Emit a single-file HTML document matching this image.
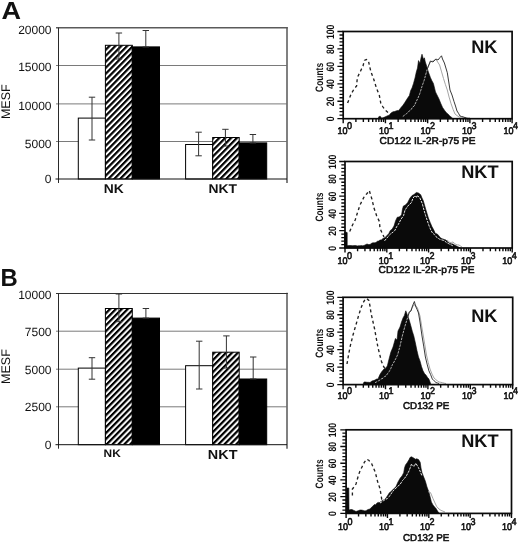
<!DOCTYPE html>
<html><head><meta charset="utf-8"><title>Figure</title>
<style>
html,body{margin:0;padding:0;background:#fff;}
body{width:520px;height:542px;overflow:hidden;}
svg{display:block;font-family:"Liberation Sans",sans-serif;filter:grayscale(1);}
text{fill:#111;text-rendering:geometricPrecision;}
</style></head>
<body>
<svg width="520" height="542" viewBox="0 0 520 542">
<defs>
<pattern id="hatch" width="4.2" height="4.2" patternUnits="userSpaceOnUse" patternTransform="rotate(-45.5)">
<rect width="4.2" height="4.2" fill="#fff"/>
<rect x="0" y="0" width="4.2" height="2.2" fill="#000"/>
</pattern>
</defs>
<rect width="520" height="542" fill="#fff"/>
<g id="chartA">
<line x1="56.0" y1="65.5" x2="287" y2="65.5" stroke="#7a7a7a" stroke-width="1"/>
<line x1="56.0" y1="103.9" x2="287" y2="103.9" stroke="#7a7a7a" stroke-width="1"/>
<line x1="56.0" y1="141.5" x2="287" y2="141.5" stroke="#7a7a7a" stroke-width="1"/>
<path d="M287 27.15V183" fill="none" stroke="#6a6a6a" stroke-width="1.7"/>
<path d="M56.0 27.75H287.8" fill="none" stroke="#5a5a5a" stroke-width="1.5"/>
<path d="M58.5 27.75V183" fill="none" stroke="#2a2a2a" stroke-width="1"/>
<rect x="78.3" y="118.1" width="27.10000000000001" height="60.900000000000006" fill="#fff" stroke="#000" stroke-width="1"/>
<rect x="105.4" y="45.3" width="26.900000000000006" height="133.7" fill="url(#hatch)" stroke="#000" stroke-width="1"/>
<rect x="132.3" y="46.9" width="27.19999999999999" height="132.1" fill="#000" stroke="#000" stroke-width="1"/>
<rect x="185.6" y="144.5" width="27.099999999999994" height="34.5" fill="#fff" stroke="#000" stroke-width="1"/>
<rect x="212.7" y="137.5" width="26.5" height="41.5" fill="url(#hatch)" stroke="#000" stroke-width="1"/>
<rect x="239.2" y="142.9" width="27.5" height="36.099999999999994" fill="#000" stroke="#000" stroke-width="1"/>
<line x1="55.5" y1="179" x2="287" y2="179" stroke="#111" stroke-width="1"/>
<path d="M92 97.2V140M88.8 97.2H95.2M88.8 140H95.2" fill="none" stroke="#333" stroke-width="1"/>
<path d="M118.9 33V59M115.7 33H122.10000000000001M115.7 59H122.10000000000001" fill="none" stroke="#333" stroke-width="1"/>
<path d="M145.8 30.5V47M142.60000000000002 30.5H149.0M142.60000000000002 47H149.0" fill="none" stroke="#333" stroke-width="1"/>
<path d="M198.6 132.2V155.8M195.4 132.2H201.79999999999998M195.4 155.8H201.79999999999998" fill="none" stroke="#333" stroke-width="1"/>
<path d="M225.4 129.3V146M222.20000000000002 129.3H228.6M222.20000000000002 146H228.6" fill="none" stroke="#333" stroke-width="1"/>
<path d="M252.9 134.5V143M249.70000000000002 134.5H256.1M249.70000000000002 143H256.1" fill="none" stroke="#333" stroke-width="1"/>
<text x="51.5" y="34.05" text-anchor="end" font-size="12">20000</text>
<text x="51.5" y="70.70" text-anchor="end" font-size="12">15000</text>
<text x="51.5" y="109.50" text-anchor="end" font-size="12">10000</text>
<text x="51.5" y="147.80" text-anchor="end" font-size="12">5000</text>
<text x="51.5" y="183.30" text-anchor="end" font-size="12">0</text>
<text transform="translate(113.75 192.9) scale(1.1 1)" text-anchor="middle" font-size="12.6" font-weight="bold">NK</text>
<text transform="translate(222.65 192.9) scale(1.1 1)" text-anchor="middle" font-size="12.6" font-weight="bold">NKT</text>
<text transform="translate(1.5 18.9) scale(1.1 1)" font-size="24.6" font-weight="bold">A</text>
<text transform="translate(10.3 101.7) rotate(-90)" text-anchor="middle" font-size="12.5">MESF</text>
</g>
<g id="chartB">
<line x1="56.0" y1="331.2" x2="287" y2="331.2" stroke="#7a7a7a" stroke-width="1"/>
<line x1="56.0" y1="369.2" x2="287" y2="369.2" stroke="#7a7a7a" stroke-width="1"/>
<line x1="56.0" y1="406.8" x2="287" y2="406.8" stroke="#7a7a7a" stroke-width="1"/>
<path d="M287 292.84999999999997V448.7" fill="none" stroke="#6a6a6a" stroke-width="1.7"/>
<path d="M56.0 293.45H287.8" fill="none" stroke="#333" stroke-width="1.1"/>
<path d="M58.5 293.45V448.7" fill="none" stroke="#2a2a2a" stroke-width="1"/>
<rect x="78.3" y="368.1" width="27.10000000000001" height="76.59999999999997" fill="#fff" stroke="#000" stroke-width="1"/>
<rect x="105.4" y="308.5" width="26.900000000000006" height="136.2" fill="url(#hatch)" stroke="#000" stroke-width="1"/>
<rect x="132.3" y="318.1" width="27.19999999999999" height="126.59999999999997" fill="#000" stroke="#000" stroke-width="1"/>
<rect x="185.6" y="365.7" width="27.099999999999994" height="79.0" fill="#fff" stroke="#000" stroke-width="1"/>
<rect x="212.7" y="352.2" width="26.5" height="92.5" fill="url(#hatch)" stroke="#000" stroke-width="1"/>
<rect x="239.2" y="379" width="27.5" height="65.69999999999999" fill="#000" stroke="#000" stroke-width="1"/>
<line x1="55.5" y1="444.7" x2="287" y2="444.7" stroke="#111" stroke-width="1"/>
<path d="M92 357.7V379.2M88.8 357.7H95.2M88.8 379.2H95.2" fill="none" stroke="#333" stroke-width="1"/>
<path d="M118.9 294V321.7M115.7 294H122.10000000000001M115.7 321.7H122.10000000000001" fill="none" stroke="#333" stroke-width="1"/>
<path d="M145.9 308.5V318.1M142.70000000000002 308.5H149.1M142.70000000000002 318.1H149.1" fill="none" stroke="#333" stroke-width="1"/>
<path d="M199.2 341.2V389M196.0 341.2H202.39999999999998M196.0 389H202.39999999999998" fill="none" stroke="#333" stroke-width="1"/>
<path d="M226.4 335.9V368M223.20000000000002 335.9H229.6M223.20000000000002 368H229.6" fill="none" stroke="#333" stroke-width="1"/>
<path d="M253.2 357V379M250.0 357H256.4M250.0 379H256.4" fill="none" stroke="#333" stroke-width="1"/>
<text x="51.5" y="299.30" text-anchor="end" font-size="12">10000</text>
<text x="51.5" y="336.40" text-anchor="end" font-size="12">7500</text>
<text x="51.5" y="373.60" text-anchor="end" font-size="12">5000</text>
<text x="51.5" y="411.40" text-anchor="end" font-size="12">2500</text>
<text x="51.5" y="448.80" text-anchor="end" font-size="12">0</text>
<text transform="translate(112.2 457) scale(1.1 1)" text-anchor="middle" font-size="10.8" font-weight="bold">NK</text>
<text transform="translate(222.65 458.5) scale(1.1 1)" text-anchor="middle" font-size="13.1" font-weight="bold">NKT</text>
<text transform="translate(0.5 285.8) scale(0.97 1)" font-size="24.6" font-weight="bold">B</text>
<text transform="translate(10.3 366.6) rotate(-90)" text-anchor="middle" font-size="12.5">MESF</text>
</g>
<g id="facs1">
<polygon points="378.0,118.7 379.0,116.4 380.5,116.4 381.5,118.2 383.5,117.6 386.0,116.5 387.6,115.7 389.2,115.2 391.0,113.0 393.0,111.8 394.5,111.5 396.0,111.0 397.4,110.5 398.8,110.4 401.0,107.5 402.7,105.6 404.5,103.0 406.5,99.8 408.0,97.5 409.4,95.5 410.7,90.5 412.0,88.0 413.5,83.4 415.0,78.0 416.3,72.0 417.5,68.0 418.5,60.6 419.9,63.5 421.0,58.0 422.0,54.2 423.4,59.2 424.4,57.8 425.3,62.0 426.3,64.9 428.4,72.0 430.5,77.7 431.9,80.8 433.4,83.4 435.5,91.9 437.0,95.0 439.0,99.0 440.8,103.5 442.6,107.5 445.0,111.0 446.9,113.2 448.3,114.3 449.7,116.0 451.4,117.2 453.0,118.7" fill="#0a0a0a" stroke="#0a0a0a" stroke-width="0.6"/>
<polyline points="427.0,70.0 428.0,67.0 430.4,62.0 433.0,61.0 435.8,59.5 437.0,61.0 439.6,65.0 441.6,71.9 443.5,78.5 445.4,84.5 447.3,90.0 449.1,97.1 451.0,103.5 453.0,109.2 455.0,114.0 457.0,115.6 459.0,117.0 460.6,117.2 462.1,117.2 463.7,117.4 465.3,117.6 466.9,117.7 468.4,117.9 470.0,118.0" fill="none" stroke="#9a9a9a" stroke-width="0.9"/>
<polyline points="427.0,70.0 428.0,67.0 430.4,61.0 433.0,62.0 435.8,59.0 438.0,60.0 440.0,57.5 441.5,55.8 442.5,59.0 444.4,63.0 447.3,72.7 450.0,90.0 452.0,95.0 454.0,101.5 455.5,106.0 457.0,111.0 458.5,113.3 460.0,116.0 461.6,116.5 463.2,116.9 464.9,117.5 466.5,118.0" fill="none" stroke="#222" stroke-width="0.9"/>
<polyline points="402.8,116.5 404.5,115.2 406.3,113.8 408.0,112.5 409.6,110.6 411.1,109.6 412.6,107.1 414.2,106.0 416.1,101.8 418.0,98.0 419.9,93.3 422.0,86.4 424.1,80.5 427.0,70.0" fill="none" stroke="#d8d8d8" stroke-width="0.8" stroke-dasharray="2.5 1"/>
<polyline points="347.6,103.0 351.0,94.3 354.0,89.0 356.6,86.0 357.3,77.7 360.7,70.7 363.0,66.0 364.4,60.5 366.4,59.5 368.4,60.5 369.5,66.0 371.0,72.0 373.9,79.7 376.2,87.3 379.4,95.6 380.8,103.3 383.0,107.0 385.0,110.0 388.0,112.5" fill="none" stroke="#222" stroke-width="1.35" stroke-dasharray="3 2.8"/>
<rect x="343.2" y="31.5" width="168.90000000000003" height="87.2" fill="none" stroke="#0a0a0a" stroke-width="1.7"/>
<path d="M337.4 118.70H343.2M339.5 115.21H343.2M339.5 111.72H343.2M339.5 108.24H343.2M339.5 104.75H343.2M337.4 101.26H343.2M339.5 97.77H343.2M339.5 94.28H343.2M339.5 90.80H343.2M339.5 87.31H343.2M337.4 83.82H343.2M339.5 80.33H343.2M339.5 76.84H343.2M339.5 73.36H343.2M339.5 69.87H343.2M337.4 66.38H343.2M339.5 62.89H343.2M339.5 59.40H343.2M339.5 55.92H343.2M339.5 52.43H343.2M337.4 48.94H343.2M339.5 45.45H343.2M339.5 41.96H343.2M339.5 38.48H343.2M339.5 34.99H343.2M337.4 31.50H343.2" stroke="#0a0a0a" stroke-width="1.3" fill="none"/>
<path d="M343.20 118.7V123.3M355.91 118.7V121.9M363.35 118.7V121.9M368.62 118.7V121.9M372.71 118.7V121.9M376.06 118.7V121.9M378.88 118.7V121.9M381.33 118.7V121.9M383.49 118.7V121.9M385.43 118.7V123.3M398.14 118.7V121.9M405.57 118.7V121.9M410.85 118.7V121.9M414.94 118.7V121.9M418.28 118.7V121.9M421.11 118.7V121.9M423.56 118.7V121.9M425.72 118.7V121.9M427.65 118.7V123.3M440.36 118.7V121.9M447.80 118.7V121.9M453.07 118.7V121.9M457.16 118.7V121.9M460.51 118.7V121.9M463.33 118.7V121.9M465.78 118.7V121.9M467.94 118.7V121.9M469.88 118.7V123.3M482.59 118.7V121.9M490.02 118.7V121.9M495.30 118.7V121.9M499.39 118.7V121.9M502.73 118.7V121.9M505.56 118.7V121.9M508.01 118.7V121.9M510.17 118.7V121.9M512.1 118.7V123.3" stroke="#0a0a0a" stroke-width="1.4" fill="none"/>
<text transform="translate(334.4 119.0) rotate(-90) scale(0.79 1)" text-anchor="middle" font-size="10.8" font-weight="bold">0</text>
<text transform="translate(334.4 101.6) rotate(-90) scale(0.79 1)" text-anchor="middle" font-size="10.8" font-weight="bold">20</text>
<text transform="translate(334.4 84.1) rotate(-90) scale(0.79 1)" text-anchor="middle" font-size="10.8" font-weight="bold">40</text>
<text transform="translate(334.4 66.7) rotate(-90) scale(0.79 1)" text-anchor="middle" font-size="10.8" font-weight="bold">60</text>
<text transform="translate(334.4 49.2) rotate(-90) scale(0.79 1)" text-anchor="middle" font-size="10.8" font-weight="bold">80</text>
<text transform="translate(334.4 31.8) rotate(-90) scale(0.79 1)" text-anchor="middle" font-size="10.8" font-weight="bold">100</text>
<text transform="translate(323.0 77.4) rotate(-90) scale(0.78 1)" text-anchor="middle" font-size="10.8" font-weight="bold">Counts</text>
<text transform="translate(337.5 134.2) scale(0.93 1)" font-size="9.7" stroke="#111" stroke-width="0.6">10</text>
<text transform="translate(347.0 129.4) scale(0.92 1)" font-size="9.8" stroke="#111" stroke-width="0.6">0</text>
<text transform="translate(379.0 134.2) scale(0.93 1)" font-size="9.7" stroke="#111" stroke-width="0.6">10</text>
<text transform="translate(388.5 129.4) scale(0.92 1)" font-size="9.8" stroke="#111" stroke-width="0.6">1</text>
<text transform="translate(420.5 134.2) scale(0.93 1)" font-size="9.7" stroke="#111" stroke-width="0.6">10</text>
<text transform="translate(430.0 129.4) scale(0.92 1)" font-size="9.8" stroke="#111" stroke-width="0.6">2</text>
<text transform="translate(462.0 134.2) scale(0.93 1)" font-size="9.7" stroke="#111" stroke-width="0.6">10</text>
<text transform="translate(471.5 129.4) scale(0.92 1)" font-size="9.8" stroke="#111" stroke-width="0.6">3</text>
<text transform="translate(503.5 134.2) scale(0.93 1)" font-size="9.7" stroke="#111" stroke-width="0.6">10</text>
<text transform="translate(513.0 129.4) scale(0.92 1)" font-size="9.8" stroke="#111" stroke-width="0.6">4</text>
<text x="379.6" y="143.8" font-size="9.9" stroke="#111" stroke-width="0.55" textLength="96" lengthAdjust="spacingAndGlyphs">CD122 IL-2R-p75 PE</text>
<text x="471.2" y="52.5" font-size="18.2" font-weight="bold">NK</text>
</g>
<g id="facs2">
<polygon points="344.5,248.0 344.5,232.6 345.9,232.1 347.2,232.6 347.2,245.5 348.6,245.6 350.0,245.5 351.5,245.6 352.9,245.7 354.3,245.5 355.7,245.5 357.2,245.9 358.6,245.7 360.0,245.8 361.3,245.6 362.7,245.8 364.0,245.5 365.5,244.7 367.0,244.0 368.5,244.5 370.0,244.5 372.0,243.0 373.3,242.8 374.7,242.8 376.0,242.5 377.3,241.3 378.7,241.0 380.0,240.0 381.3,239.9 382.7,238.7 384.0,238.0 385.5,237.2 387.0,235.4 388.7,233.7 390.3,230.5 392.0,229.3 394.0,226.0 395.6,220.7 397.3,217.2 399.0,217.0 400.3,216.3 401.6,214.6 402.5,209.0 403.4,206.0 405.5,205.0 407.7,202.5 410.0,198.0 412.0,195.6 414.0,194.5 416.3,192.5 418.5,193.0 420.7,194.7 422.0,198.0 423.3,200.8 425.8,209.4 428.4,218.0 430.2,222.5 432.0,226.7 433.7,229.8 435.4,233.6 437.2,233.9 439.0,236.0 440.6,238.0 442.3,238.8 444.1,239.4 446.0,240.0 447.6,241.7 449.2,243.0 451.1,243.8 453.0,244.0 454.5,245.0 456.0,245.7 457.5,246.6 459.0,247.2 460.5,248.0" fill="#0a0a0a" stroke="#0a0a0a" stroke-width="0.6"/>
<polyline points="447.0,240.0 448.5,241.3 450.0,242.5 451.5,242.4 453.0,242.0 454.5,243.4 456.0,244.5 457.5,244.9 459.0,245.0 460.5,246.0 462.0,247.0" fill="none" stroke="#9a9a9a" stroke-width="0.9"/>
<polyline points="384.5,240.9 386.2,238.9 387.9,236.9 389.7,234.7 391.4,233.2 393.2,232.1 395.0,230.2 396.6,226.8 398.3,224.5 401.0,219.2 403.5,215.8 405.0,210.2 407.0,207.2 409.0,204.7 411.3,202.8 413.0,198.2 414.7,195.9 416.5,197.2 416.2,195.9 418.0,196.2 419.7,197.6 422.3,203.7 424.0,210.2 425.7,215.8 427.4,221.0 429.2,226.2 430.9,230.2 432.6,233.2 434.3,234.4 436.0,236.7 437.8,238.0 439.6,239.2 441.3,239.8 443.0,240.2 444.8,241.1 446.5,242.6 448.2,243.4 449.9,244.4 451.7,245.2 453.4,246.1" fill="none" stroke="#e6e6e6" stroke-width="1.0" stroke-dasharray="2.5 1"/>
<polyline points="349.7,231.5 352.5,225.0 355.2,220.0 357.3,213.2 360.0,205.0 364.2,196.6 367.0,193.5 369.3,190.5 370.6,195.0 372.0,199.4 373.9,207.7 376.7,216.0 379.4,221.5 380.0,228.4 382.2,233.3 384.0,237.0" fill="none" stroke="#222" stroke-width="1.35" stroke-dasharray="3 2.8"/>
<rect x="345" y="161.5" width="167.20000000000005" height="86.5" fill="none" stroke="#0a0a0a" stroke-width="1.7"/>
<path d="M339.2 248.00H345M341.3 244.54H345M341.3 241.08H345M341.3 237.62H345M341.3 234.16H345M339.2 230.70H345M341.3 227.24H345M341.3 223.78H345M341.3 220.32H345M341.3 216.86H345M339.2 213.40H345M341.3 209.94H345M341.3 206.48H345M341.3 203.02H345M341.3 199.56H345M339.2 196.10H345M341.3 192.64H345M341.3 189.18H345M341.3 185.72H345M341.3 182.26H345M339.2 178.80H345M341.3 175.34H345M341.3 171.88H345M341.3 168.42H345M341.3 164.96H345M339.2 161.50H345" stroke="#0a0a0a" stroke-width="1.3" fill="none"/>
<path d="M345.00 248.0V252.6M357.58 248.0V251.2M364.94 248.0V251.2M370.17 248.0V251.2M374.22 248.0V251.2M377.53 248.0V251.2M380.33 248.0V251.2M382.75 248.0V251.2M384.89 248.0V251.2M386.80 248.0V252.6M399.38 248.0V251.2M406.74 248.0V251.2M411.97 248.0V251.2M416.02 248.0V251.2M419.33 248.0V251.2M422.13 248.0V251.2M424.55 248.0V251.2M426.69 248.0V251.2M428.60 248.0V252.6M441.18 248.0V251.2M448.54 248.0V251.2M453.77 248.0V251.2M457.82 248.0V251.2M461.13 248.0V251.2M463.93 248.0V251.2M466.35 248.0V251.2M468.49 248.0V251.2M470.40 248.0V252.6M482.98 248.0V251.2M490.34 248.0V251.2M495.57 248.0V251.2M499.62 248.0V251.2M502.93 248.0V251.2M505.73 248.0V251.2M508.15 248.0V251.2M510.29 248.0V251.2M512.2 248.0V252.6" stroke="#0a0a0a" stroke-width="1.4" fill="none"/>
<text transform="translate(335.7 248.3) rotate(-90) scale(0.79 1)" text-anchor="middle" font-size="10.8" font-weight="bold">0</text>
<text transform="translate(335.7 231.0) rotate(-90) scale(0.79 1)" text-anchor="middle" font-size="10.8" font-weight="bold">20</text>
<text transform="translate(335.7 213.7) rotate(-90) scale(0.79 1)" text-anchor="middle" font-size="10.8" font-weight="bold">40</text>
<text transform="translate(335.7 196.4) rotate(-90) scale(0.79 1)" text-anchor="middle" font-size="10.8" font-weight="bold">60</text>
<text transform="translate(335.7 179.1) rotate(-90) scale(0.79 1)" text-anchor="middle" font-size="10.8" font-weight="bold">80</text>
<text transform="translate(335.7 161.8) rotate(-90) scale(0.79 1)" text-anchor="middle" font-size="10.8" font-weight="bold">100</text>
<text transform="translate(323.0 207.1) rotate(-90) scale(0.78 1)" text-anchor="middle" font-size="10.8" font-weight="bold">Counts</text>
<text transform="translate(337.5 263.5) scale(0.93 1)" font-size="9.7" stroke="#111" stroke-width="0.6">10</text>
<text transform="translate(347.0 258.7) scale(0.92 1)" font-size="9.8" stroke="#111" stroke-width="0.6">0</text>
<text transform="translate(378.7 263.5) scale(0.93 1)" font-size="9.7" stroke="#111" stroke-width="0.6">10</text>
<text transform="translate(388.2 258.7) scale(0.92 1)" font-size="9.8" stroke="#111" stroke-width="0.6">1</text>
<text transform="translate(419.9 263.5) scale(0.93 1)" font-size="9.7" stroke="#111" stroke-width="0.6">10</text>
<text transform="translate(429.4 258.7) scale(0.92 1)" font-size="9.8" stroke="#111" stroke-width="0.6">2</text>
<text transform="translate(461.1 263.5) scale(0.93 1)" font-size="9.7" stroke="#111" stroke-width="0.6">10</text>
<text transform="translate(470.6 258.7) scale(0.92 1)" font-size="9.8" stroke="#111" stroke-width="0.6">3</text>
<text transform="translate(502.3 263.5) scale(0.93 1)" font-size="9.7" stroke="#111" stroke-width="0.6">10</text>
<text transform="translate(511.8 258.7) scale(0.92 1)" font-size="9.8" stroke="#111" stroke-width="0.6">4</text>
<text x="378.6" y="273.0" font-size="9.9" stroke="#111" stroke-width="0.55" textLength="96" lengthAdjust="spacingAndGlyphs">CD122 IL-2R-p75 PE</text>
<text x="461.2" y="177.8" font-size="18.2" font-weight="bold">NKT</text>
</g>
<g id="facs3">
<polygon points="363.0,384.6 364.0,382.0 365.5,382.0 367.0,382.3 368.5,382.3 370.0,382.5 372.0,381.0 373.5,380.6 375.0,380.1 376.5,379.1 378.0,379.0 379.8,374.8 381.5,372.0 384.0,369.0 385.6,368.2 387.3,366.0 389.1,358.7 390.8,352.3 393.0,347.0 395.4,338.5 397.0,340.0 398.0,331.0 400.0,327.0 401.5,322.0 403.0,318.0 404.4,315.4 405.8,310.8 407.0,314.0 409.2,320.0 410.7,325.3 412.3,331.3 413.8,336.0 415.4,343.0 416.9,350.3 418.5,357.0 420.0,360.9 421.5,366.5 423.0,370.8 424.5,373.6 425.9,374.9 427.4,377.3 428.9,379.0 431.0,384.6" fill="#0a0a0a" stroke="#0a0a0a" stroke-width="0.6"/>
<polyline points="407.5,318.0 409.2,313.0 411.0,310.0 413.0,306.0 415.0,304.5 417.5,308.0 420.0,316.0 421.5,325.1 423.0,334.0 424.8,344.8 426.5,355.0 428.2,362.4 430.0,369.0 432.0,374.0 434.0,378.0 435.7,379.5 437.3,380.8 439.0,382.0 440.8,382.3 442.5,382.7 444.2,383.2 446.0,383.5" fill="none" stroke="#9a9a9a" stroke-width="0.9"/>
<polyline points="407.5,318.0 409.2,312.0 411.0,311.0 412.5,306.0 414.4,301.5 415.5,306.0 417.0,309.3 418.5,313.0 420.0,322.0 422.0,336.0 423.7,346.1 425.4,357.0 427.1,364.1 428.9,370.8 430.6,374.5 432.3,379.0 434.1,380.8 436.0,382.5 437.5,383.0 439.0,383.5" fill="none" stroke="#222" stroke-width="0.9"/>
<polyline points="375.0,382.7 376.7,381.8 378.3,380.9 380.0,380.0 381.5,378.8 383.0,378.2 384.5,376.6 386.0,376.0 387.6,373.5 389.2,371.5 390.8,368.5 392.4,364.7 394.0,362.0 395.9,358.4 397.7,354.6 400.0,346.0 402.3,336.0 405.0,326.0 407.5,318.0" fill="none" stroke="#d8d8d8" stroke-width="0.8" stroke-dasharray="2.5 1"/>
<polyline points="347.0,364.0 348.5,355.0 350.4,345.4 353.0,335.0 356.0,324.6 358.5,316.0 360.8,308.5 363.0,303.0 365.4,299.0 367.0,298.6 368.8,300.4 370.0,306.0 371.0,313.0 374.6,329.0 378.0,347.7 381.5,361.5 383.8,367.0 386.0,370.0" fill="none" stroke="#222" stroke-width="1.35" stroke-dasharray="3 2.8"/>
<rect x="343.1" y="297.3" width="169.60000000000002" height="87.30000000000001" fill="none" stroke="#0a0a0a" stroke-width="1.7"/>
<path d="M337.3 384.60H343.1M339.40000000000003 381.11H343.1M339.40000000000003 377.62H343.1M339.40000000000003 374.12H343.1M339.40000000000003 370.63H343.1M337.3 367.14H343.1M339.40000000000003 363.65H343.1M339.40000000000003 360.16H343.1M339.40000000000003 356.66H343.1M339.40000000000003 353.17H343.1M337.3 349.68H343.1M339.40000000000003 346.19H343.1M339.40000000000003 342.70H343.1M339.40000000000003 339.20H343.1M339.40000000000003 335.71H343.1M337.3 332.22H343.1M339.40000000000003 328.73H343.1M339.40000000000003 325.24H343.1M339.40000000000003 321.74H343.1M339.40000000000003 318.25H343.1M337.3 314.76H343.1M339.40000000000003 311.27H343.1M339.40000000000003 307.78H343.1M339.40000000000003 304.28H343.1M339.40000000000003 300.79H343.1M337.3 297.30H343.1" stroke="#0a0a0a" stroke-width="1.3" fill="none"/>
<path d="M343.10 384.6V389.20000000000005M355.86 384.6V387.8M363.33 384.6V387.8M368.63 384.6V387.8M372.74 384.6V387.8M376.09 384.6V387.8M378.93 384.6V387.8M381.39 384.6V387.8M383.56 384.6V387.8M385.50 384.6V389.20000000000005M398.26 384.6V387.8M405.73 384.6V387.8M411.03 384.6V387.8M415.14 384.6V387.8M418.49 384.6V387.8M421.33 384.6V387.8M423.79 384.6V387.8M425.96 384.6V387.8M427.90 384.6V389.20000000000005M440.66 384.6V387.8M448.13 384.6V387.8M453.43 384.6V387.8M457.54 384.6V387.8M460.89 384.6V387.8M463.73 384.6V387.8M466.19 384.6V387.8M468.36 384.6V387.8M470.30 384.6V389.20000000000005M483.06 384.6V387.8M490.53 384.6V387.8M495.83 384.6V387.8M499.94 384.6V387.8M503.29 384.6V387.8M506.13 384.6V387.8M508.59 384.6V387.8M510.76 384.6V387.8M512.7 384.6V389.20000000000005" stroke="#0a0a0a" stroke-width="1.4" fill="none"/>
<text transform="translate(334.4 384.9) rotate(-90) scale(0.79 1)" text-anchor="middle" font-size="10.8" font-weight="bold">0</text>
<text transform="translate(334.4 367.4) rotate(-90) scale(0.79 1)" text-anchor="middle" font-size="10.8" font-weight="bold">20</text>
<text transform="translate(334.4 350.0) rotate(-90) scale(0.79 1)" text-anchor="middle" font-size="10.8" font-weight="bold">40</text>
<text transform="translate(334.4 332.5) rotate(-90) scale(0.79 1)" text-anchor="middle" font-size="10.8" font-weight="bold">60</text>
<text transform="translate(334.4 315.1) rotate(-90) scale(0.79 1)" text-anchor="middle" font-size="10.8" font-weight="bold">80</text>
<text transform="translate(334.4 297.6) rotate(-90) scale(0.79 1)" text-anchor="middle" font-size="10.8" font-weight="bold">100</text>
<text transform="translate(323.0 343.3) rotate(-90) scale(0.78 1)" text-anchor="middle" font-size="10.8" font-weight="bold">Counts</text>
<text transform="translate(337.6 399.2) scale(0.93 1)" font-size="9.7" stroke="#111" stroke-width="0.6">10</text>
<text transform="translate(347.1 394.4) scale(0.92 1)" font-size="9.8" stroke="#111" stroke-width="0.6">0</text>
<text transform="translate(379.1 399.2) scale(0.93 1)" font-size="9.7" stroke="#111" stroke-width="0.6">10</text>
<text transform="translate(388.6 394.4) scale(0.92 1)" font-size="9.8" stroke="#111" stroke-width="0.6">1</text>
<text transform="translate(420.5 399.2) scale(0.93 1)" font-size="9.7" stroke="#111" stroke-width="0.6">10</text>
<text transform="translate(430.0 394.4) scale(0.92 1)" font-size="9.8" stroke="#111" stroke-width="0.6">2</text>
<text transform="translate(462.0 399.2) scale(0.93 1)" font-size="9.7" stroke="#111" stroke-width="0.6">10</text>
<text transform="translate(471.5 394.4) scale(0.92 1)" font-size="9.8" stroke="#111" stroke-width="0.6">3</text>
<text transform="translate(503.4 399.2) scale(0.93 1)" font-size="9.7" stroke="#111" stroke-width="0.6">10</text>
<text transform="translate(512.9 394.4) scale(0.92 1)" font-size="9.8" stroke="#111" stroke-width="0.6">4</text>
<text x="403" y="408.8" font-size="9.9" stroke="#111" stroke-width="0.55" textLength="46.3" lengthAdjust="spacingAndGlyphs">CD132 PE</text>
<text x="471.2" y="321.7" font-size="18.2" font-weight="bold">NK</text>
</g>
<g id="facs4">
<polygon points="346.0,513.4 346.9,488.0 348.8,488.0 349.0,510.0 350.5,509.6 352.0,509.5 353.3,510.2 354.7,510.8 356.0,511.5 357.3,511.0 358.7,510.6 360.0,510.0 361.7,510.1 363.3,510.4 365.0,511.0 366.5,510.4 368.0,509.5 370.0,509.0 371.5,507.3 373.0,506.0 374.3,504.6 375.7,504.8 377.0,503.0 378.3,502.4 379.7,502.6 381.0,501.5 382.5,500.5 384.1,499.8 385.6,498.6 388.0,495.0 389.4,492.7 390.8,491.7 393.0,489.5 394.5,488.3 396.0,486.5 398.0,482.0 400.3,477.9 402.0,476.0 403.7,472.7 404.5,468.0 405.5,464.9 407.0,463.0 409.0,459.7 410.0,457.5 411.5,456.8 414.0,458.2 415.4,459.2 416.7,458.8 418.5,459.5 420.2,462.3 421.0,468.0 422.0,472.7 423.7,477.0 425.4,481.3 427.0,487.0 428.8,491.7 431.4,502.0 433.0,505.0 434.4,506.8 435.7,508.0 437.4,510.8 439.2,513.4" fill="#0a0a0a" stroke="#0a0a0a" stroke-width="0.6"/>
<polyline points="428.0,491.7 430.5,492.6 433.0,498.6 435.0,503.0 436.6,506.4 439.0,509.0 441.0,510.4 443.0,511.2 445.0,512.0" fill="none" stroke="#9a9a9a" stroke-width="0.9"/>
<polyline points="380.0,503.0 381.8,501.9 383.6,500.6 385.5,499.3 387.3,498.6 389.1,496.7 391.0,494.0 392.6,491.4 394.2,490.0 396.1,488.0 398.0,486.0 399.5,485.0 401.0,483.0 402.5,480.5 404.0,479.0 406.3,476.0 409.0,471.0 410.5,467.0 411.5,464.0 414.0,466.6 415.8,463.2 418.4,467.5 420.0,471.0 422.0,476.0" fill="none" stroke="#e6e6e6" stroke-width="1.0" stroke-dasharray="2.5 1"/>
<polyline points="352.4,495.5 352.4,489.0 354.0,487.0 356.0,484.0 358.4,475.5 360.0,471.0 362.0,467.0 364.5,462.0 366.8,459.2 369.0,460.5 371.6,463.6 375.2,472.0 377.6,481.5 380.0,488.7 381.2,496.0 382.0,501.0" fill="none" stroke="#222" stroke-width="1.35" stroke-dasharray="3 2.8"/>
<rect x="346.1" y="429.8" width="165.39999999999998" height="83.59999999999997" fill="none" stroke="#0a0a0a" stroke-width="1.7"/>
<path d="M340.3 513.40H346.1M342.40000000000003 510.06H346.1M342.40000000000003 506.71H346.1M342.40000000000003 503.37H346.1M342.40000000000003 500.02H346.1M340.3 496.68H346.1M342.40000000000003 493.34H346.1M342.40000000000003 489.99H346.1M342.40000000000003 486.65H346.1M342.40000000000003 483.30H346.1M340.3 479.96H346.1M342.40000000000003 476.62H346.1M342.40000000000003 473.27H346.1M342.40000000000003 469.93H346.1M342.40000000000003 466.58H346.1M340.3 463.24H346.1M342.40000000000003 459.90H346.1M342.40000000000003 456.55H346.1M342.40000000000003 453.21H346.1M342.40000000000003 449.86H346.1M340.3 446.52H346.1M342.40000000000003 443.18H346.1M342.40000000000003 439.83H346.1M342.40000000000003 436.49H346.1M342.40000000000003 433.14H346.1M340.3 429.80H346.1" stroke="#0a0a0a" stroke-width="1.3" fill="none"/>
<path d="M346.10 513.4V518.0M358.55 513.4V516.6M365.83 513.4V516.6M371.00 513.4V516.6M375.00 513.4V516.6M378.28 513.4V516.6M381.04 513.4V516.6M383.44 513.4V516.6M385.56 513.4V516.6M387.45 513.4V518.0M399.90 513.4V516.6M407.18 513.4V516.6M412.35 513.4V516.6M416.35 513.4V516.6M419.63 513.4V516.6M422.39 513.4V516.6M424.79 513.4V516.6M426.91 513.4V516.6M428.80 513.4V518.0M441.25 513.4V516.6M448.53 513.4V516.6M453.70 513.4V516.6M457.70 513.4V516.6M460.98 513.4V516.6M463.74 513.4V516.6M466.14 513.4V516.6M468.26 513.4V516.6M470.15 513.4V518.0M482.60 513.4V516.6M489.88 513.4V516.6M495.05 513.4V516.6M499.05 513.4V516.6M502.33 513.4V516.6M505.09 513.4V516.6M507.49 513.4V516.6M509.61 513.4V516.6M511.5 513.4V518.0" stroke="#0a0a0a" stroke-width="1.4" fill="none"/>
<text transform="translate(335.7 513.7) rotate(-90) scale(0.79 1)" text-anchor="middle" font-size="10.8" font-weight="bold">0</text>
<text transform="translate(335.7 497.0) rotate(-90) scale(0.79 1)" text-anchor="middle" font-size="10.8" font-weight="bold">20</text>
<text transform="translate(335.7 480.3) rotate(-90) scale(0.79 1)" text-anchor="middle" font-size="10.8" font-weight="bold">40</text>
<text transform="translate(335.7 463.5) rotate(-90) scale(0.79 1)" text-anchor="middle" font-size="10.8" font-weight="bold">60</text>
<text transform="translate(335.7 446.8) rotate(-90) scale(0.79 1)" text-anchor="middle" font-size="10.8" font-weight="bold">80</text>
<text transform="translate(335.7 430.1) rotate(-90) scale(0.79 1)" text-anchor="middle" font-size="10.8" font-weight="bold">100</text>
<text transform="translate(323.0 473.9) rotate(-90) scale(0.78 1)" text-anchor="middle" font-size="10.8" font-weight="bold">Counts</text>
<text transform="translate(338.1 530.0) scale(0.93 1)" font-size="9.7" stroke="#111" stroke-width="0.6">10</text>
<text transform="translate(347.6 525.2) scale(0.92 1)" font-size="9.8" stroke="#111" stroke-width="0.6">0</text>
<text transform="translate(379.1 530.0) scale(0.93 1)" font-size="9.7" stroke="#111" stroke-width="0.6">10</text>
<text transform="translate(388.6 525.2) scale(0.92 1)" font-size="9.8" stroke="#111" stroke-width="0.6">1</text>
<text transform="translate(420.0 530.0) scale(0.93 1)" font-size="9.7" stroke="#111" stroke-width="0.6">10</text>
<text transform="translate(429.5 525.2) scale(0.92 1)" font-size="9.8" stroke="#111" stroke-width="0.6">2</text>
<text transform="translate(461.0 530.0) scale(0.93 1)" font-size="9.7" stroke="#111" stroke-width="0.6">10</text>
<text transform="translate(470.5 525.2) scale(0.92 1)" font-size="9.8" stroke="#111" stroke-width="0.6">3</text>
<text transform="translate(501.9 530.0) scale(0.93 1)" font-size="9.7" stroke="#111" stroke-width="0.6">10</text>
<text transform="translate(511.4 525.2) scale(0.92 1)" font-size="9.8" stroke="#111" stroke-width="0.6">4</text>
<text x="403" y="540.5" font-size="9.9" stroke="#111" stroke-width="0.55" textLength="46.3" lengthAdjust="spacingAndGlyphs">CD132 PE</text>
<text x="461.2" y="447.2" font-size="18.2" font-weight="bold">NKT</text>
</g>
</svg>
</body></html>
